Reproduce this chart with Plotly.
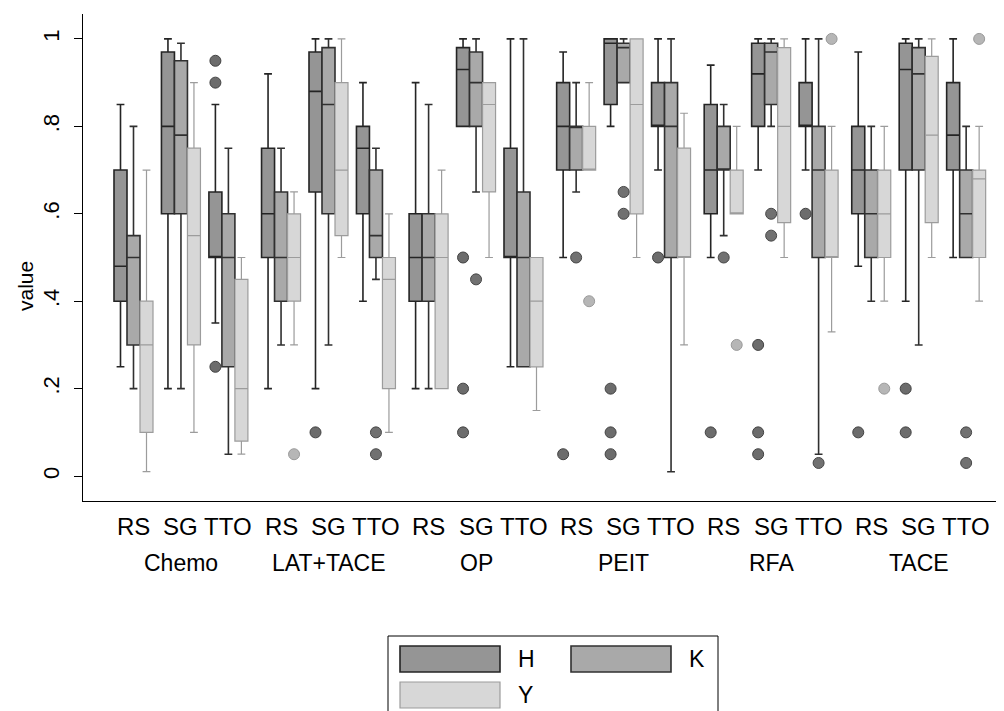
import plotly.graph_objects as go

# ---------------- data ----------------
groups = ["Chemo", "LAT+TACE", "OP", "PEIT", "RFA", "TACE"]
methods = ["RS", "SG", "TTO"]
series = ["H", "K", "Y"]

# order: Chemo RS, SG, TTO, LAT+TACE RS, SG, TTO, OP ..., PEIT ..., RFA ..., TACE ...
H_lower = [0.25, 0.20, 0.35, 0.20, 0.20, 0.40, 0.20, 0.80, 0.25, 0.50, 0.80, 0.70, 0.50, 0.70, 0.70, 0.48, 0.40, 0.50]
H_q1    = [0.40, 0.60, 0.50, 0.50, 0.65, 0.60, 0.40, 0.80, 0.50, 0.70, 0.85, 0.80, 0.60, 0.80, 0.80, 0.60, 0.70, 0.70]
H_med   = [0.48, 0.80, 0.50, 0.60, 0.88, 0.75, 0.50, 0.93, 0.50, 0.80, 0.99, 0.80, 0.70, 0.92, 0.80, 0.70, 0.93, 0.78]
H_q3    = [0.70, 0.97, 0.65, 0.75, 0.97, 0.80, 0.60, 0.98, 0.75, 0.90, 1.00, 0.90, 0.85, 0.99, 0.90, 0.80, 0.99, 0.90]
H_upper = [0.85, 1.00, 0.85, 0.92, 1.00, 0.90, 0.90, 1.00, 1.00, 0.97, 1.00, 1.00, 0.94, 1.00, 1.00, 0.97, 1.00, 1.00]

K_lower = [0.20, 0.20, 0.05, 0.30, 0.30, 0.45, 0.20, 0.65, 0.25, 0.65, 0.90, 0.01, 0.55, 0.80, 0.05, 0.40, 0.30, 0.50]
K_q1    = [0.30, 0.60, 0.25, 0.40, 0.60, 0.50, 0.40, 0.80, 0.25, 0.70, 0.90, 0.50, 0.70, 0.85, 0.50, 0.50, 0.70, 0.50]
K_med   = [0.50, 0.78, 0.50, 0.50, 0.85, 0.55, 0.50, 0.90, 0.50, 0.80, 0.98, 0.80, 0.70, 0.97, 0.70, 0.60, 0.92, 0.60]
K_q3    = [0.55, 0.95, 0.60, 0.65, 0.98, 0.70, 0.60, 0.97, 0.65, 0.80, 0.99, 0.90, 0.80, 0.99, 0.80, 0.70, 0.98, 0.70]
K_upper = [0.80, 0.99, 0.75, 0.75, 1.00, 0.75, 0.85, 1.00, 1.00, 0.90, 1.00, 1.00, 0.85, 1.00, 1.00, 0.80, 1.00, 0.80]

Y_lower = [0.01, 0.10, 0.05, 0.30, 0.50, 0.10, 0.20, 0.50, 0.15, 0.70, 0.50, 0.30, 0.60, 0.50, 0.33, 0.40, 0.50, 0.40]
Y_q1    = [0.10, 0.30, 0.08, 0.40, 0.55, 0.20, 0.20, 0.65, 0.25, 0.70, 0.60, 0.50, 0.60, 0.58, 0.50, 0.50, 0.58, 0.50]
Y_med   = [0.30, 0.55, 0.20, 0.50, 0.70, 0.45, 0.50, 0.85, 0.40, 0.70, 0.85, 0.50, 0.60, 0.80, 0.50, 0.60, 0.78, 0.68]
Y_q3    = [0.40, 0.75, 0.45, 0.60, 0.90, 0.50, 0.60, 0.90, 0.50, 0.80, 1.00, 0.75, 0.70, 0.98, 0.70, 0.70, 0.96, 0.70]
Y_upper = [0.70, 0.90, 0.50, 0.65, 1.00, 0.60, 0.70, 0.90, 0.50, 0.90, 1.00, 0.83, 0.80, 1.00, 0.80, 0.80, 1.00, 0.80]

H_outliers = [("Chemo", "TTO", 0.95), ("Chemo", "TTO", 0.90), ("Chemo", "TTO", 0.25),
              ("LAT+TACE", "SG", 0.10),
              ("OP", "SG", 0.50), ("OP", "SG", 0.20), ("OP", "SG", 0.10),
              ("PEIT", "RS", 0.05), ("PEIT", "SG", 0.20), ("PEIT", "SG", 0.10), ("PEIT", "SG", 0.05),
              ("PEIT", "TTO", 0.50),
              ("RFA", "RS", 0.10), ("RFA", "SG", 0.30), ("RFA", "SG", 0.10), ("RFA", "SG", 0.05),
              ("RFA", "TTO", 0.60),
              ("TACE", "RS", 0.10), ("TACE", "SG", 0.20), ("TACE", "SG", 0.10)]
K_outliers = [("LAT+TACE", "TTO", 0.10), ("LAT+TACE", "TTO", 0.05),
              ("OP", "SG", 0.45),
              ("PEIT", "RS", 0.50), ("PEIT", "SG", 0.65), ("PEIT", "SG", 0.60),
              ("RFA", "RS", 0.50), ("RFA", "SG", 0.60), ("RFA", "SG", 0.55), ("RFA", "TTO", 0.03),
              ("TACE", "TTO", 0.10), ("TACE", "TTO", 0.03)]
Y_outliers = [("LAT+TACE", "RS", 0.05), ("PEIT", "RS", 0.40), ("RFA", "RS", 0.30),
              ("RFA", "TTO", 1.00), ("TACE", "RS", 0.20), ("TACE", "TTO", 1.00)]

y_tickvals = [0, 0.2, 0.4, 0.6, 0.8, 1.0]
y_ticktext = ["0", ".2", ".4", ".6", ".8", "1"]

# ---------------- layout constants ----------------
BOX_W = 1.0
SUB_GAP = 0.65
GROUP_GAP = 1.05
SUB_PITCH = 3 * BOX_W + SUB_GAP
GROUP_PITCH = 3 * SUB_PITCH - SUB_GAP + GROUP_GAP

FONT = "Liberation Sans, Arial, sans-serif"
W, H = 1004, 711
M_L, M_R, M_T, M_B = 75, 4, 6, 218
PW, PH = W - M_L - M_R, H - M_T - M_B
PX_PER_UNIT = 13.0
X_MIN = -31.0 / PX_PER_UNIT
X_MAX = X_MIN + PW / PX_PER_UNIT

styles = {
    "H": dict(fill="#959595", line="#242424", lw=1.6, mfill="#6c6c6c", mline="#424242"),
    "K": dict(fill="#a9a9a9", line="#303030", lw=1.6, mfill="#717171", mline="#474747"),
    "Y": dict(fill="#d7d7d7", line="#9c9c9c", lw=1.2, mfill="#b6b6b6", mline="#9a9a9a"),
}
stats = {
    "H": (H_lower, H_q1, H_med, H_q3, H_upper, H_outliers),
    "K": (K_lower, K_q1, K_med, K_q3, K_upper, K_outliers),
    "Y": (Y_lower, Y_q1, Y_med, Y_q3, Y_upper, Y_outliers),
}


def xpos(g, m, s):
    return g * GROUP_PITCH + m * SUB_PITCH + s * BOX_W + BOX_W / 2


def px_x(px):
    return (px - M_L) / PW


def px_y(py):
    return (H - M_B - py) / PH


fig = go.Figure()
for si, name in enumerate(series):
    lo, q1, med, q3, up, outs = stats[name]
    st = styles[name]
    xs = [xpos(g, m, si) for g in range(len(groups)) for m in range(len(methods))]
    fig.add_trace(go.Box(
        x=xs, q1=q1, median=med, q3=q3, lowerfence=lo, upperfence=up,
        width=BOX_W, whiskerwidth=0.6, boxpoints=False, name=name,
        fillcolor=st["fill"], line=dict(color=st["line"], width=st["lw"]),
        showlegend=False,
    ))
    ox = [xpos(groups.index(g), methods.index(m), si) for g, m, v in outs]
    oy = [v for g, m, v in outs]
    fig.add_trace(go.Scatter(
        x=ox, y=oy, mode="markers", showlegend=False,
        marker=dict(size=11, color=st["mfill"], line=dict(color=st["mline"], width=1)),
    ))

annotations = []
for g, gname in enumerate(groups):
    for m, mname in enumerate(methods):
        annotations.append(dict(
            x=xpos(g, m, 1), y=0, xref="x", yref="paper", yshift=-25,
            text=mname, showarrow=False, yanchor="middle", xanchor="center",
            font=dict(family=FONT, size=24, color="black")))
    annotations.append(dict(
        x=xpos(g, 1, 1), y=0, xref="x", yref="paper", yshift=-62,
        text=gname, showarrow=False, yanchor="middle", xanchor="center",
        font=dict(family=FONT, size=23, color="black")))
annotations.append(dict(
    x=0, y=px_y(278), xref="paper", yref="paper", xshift=-58,
    text="value", textangle=-90, showarrow=False,
    xanchor="center", yanchor="middle",
    font=dict(family=FONT, size=21, color="black")))

shapes = []
LEG = dict(x0=380, x1=710, y0=628, y1=710)
shapes.append(dict(type="rect", xref="paper", yref="paper",
                   x0=px_x(LEG["x0"]), x1=px_x(LEG["x1"]),
                   y0=px_y(LEG["y1"]), y1=px_y(LEG["y0"]),
                   line=dict(color="black", width=1), fillcolor="white", layer="below"))
legend_items = [("H", 392, 638), ("K", 563, 638), ("Y", 392, 674)]
for name, kx, ky in legend_items:
    st = styles[name]
    shapes.append(dict(type="rect", xref="paper", yref="paper",
                       x0=px_x(kx), x1=px_x(kx + 100), y0=px_y(ky + 26), y1=px_y(ky),
                       line=dict(color=st["line"], width=st["lw"]), fillcolor=st["fill"]))
    annotations.append(dict(
        x=px_x(kx + 116), y=px_y(ky + 13), xref="paper", yref="paper",
        text=name, showarrow=False, xanchor="left", yanchor="middle",
        font=dict(family=FONT, size=23, color="black")))

fig.update_layout(
    width=W, height=H,
    margin=dict(l=M_L, r=M_R, t=M_T, b=M_B, pad=0),
    paper_bgcolor="white", plot_bgcolor="white",
    boxmode="overlay", showlegend=False,
    xaxis=dict(range=[X_MIN, X_MAX], showline=True, linecolor="black", linewidth=1.3,
               ticks="", showticklabels=False, showgrid=False, zeroline=False),
    yaxis=dict(range=[-0.057, 1.057], showline=True, linecolor="black", linewidth=1.3,
               ticks="outside", ticklen=8, tickwidth=1.3, tickcolor="black",
               tickvals=y_tickvals, ticktext=y_ticktext, tickangle=-90,
               tickfont=dict(family=FONT, size=22, color="black"),
               ticklabelstandoff=6,
               showgrid=False, zeroline=False),
    annotations=annotations, shapes=shapes,
)

fig.write_html("out.html")
